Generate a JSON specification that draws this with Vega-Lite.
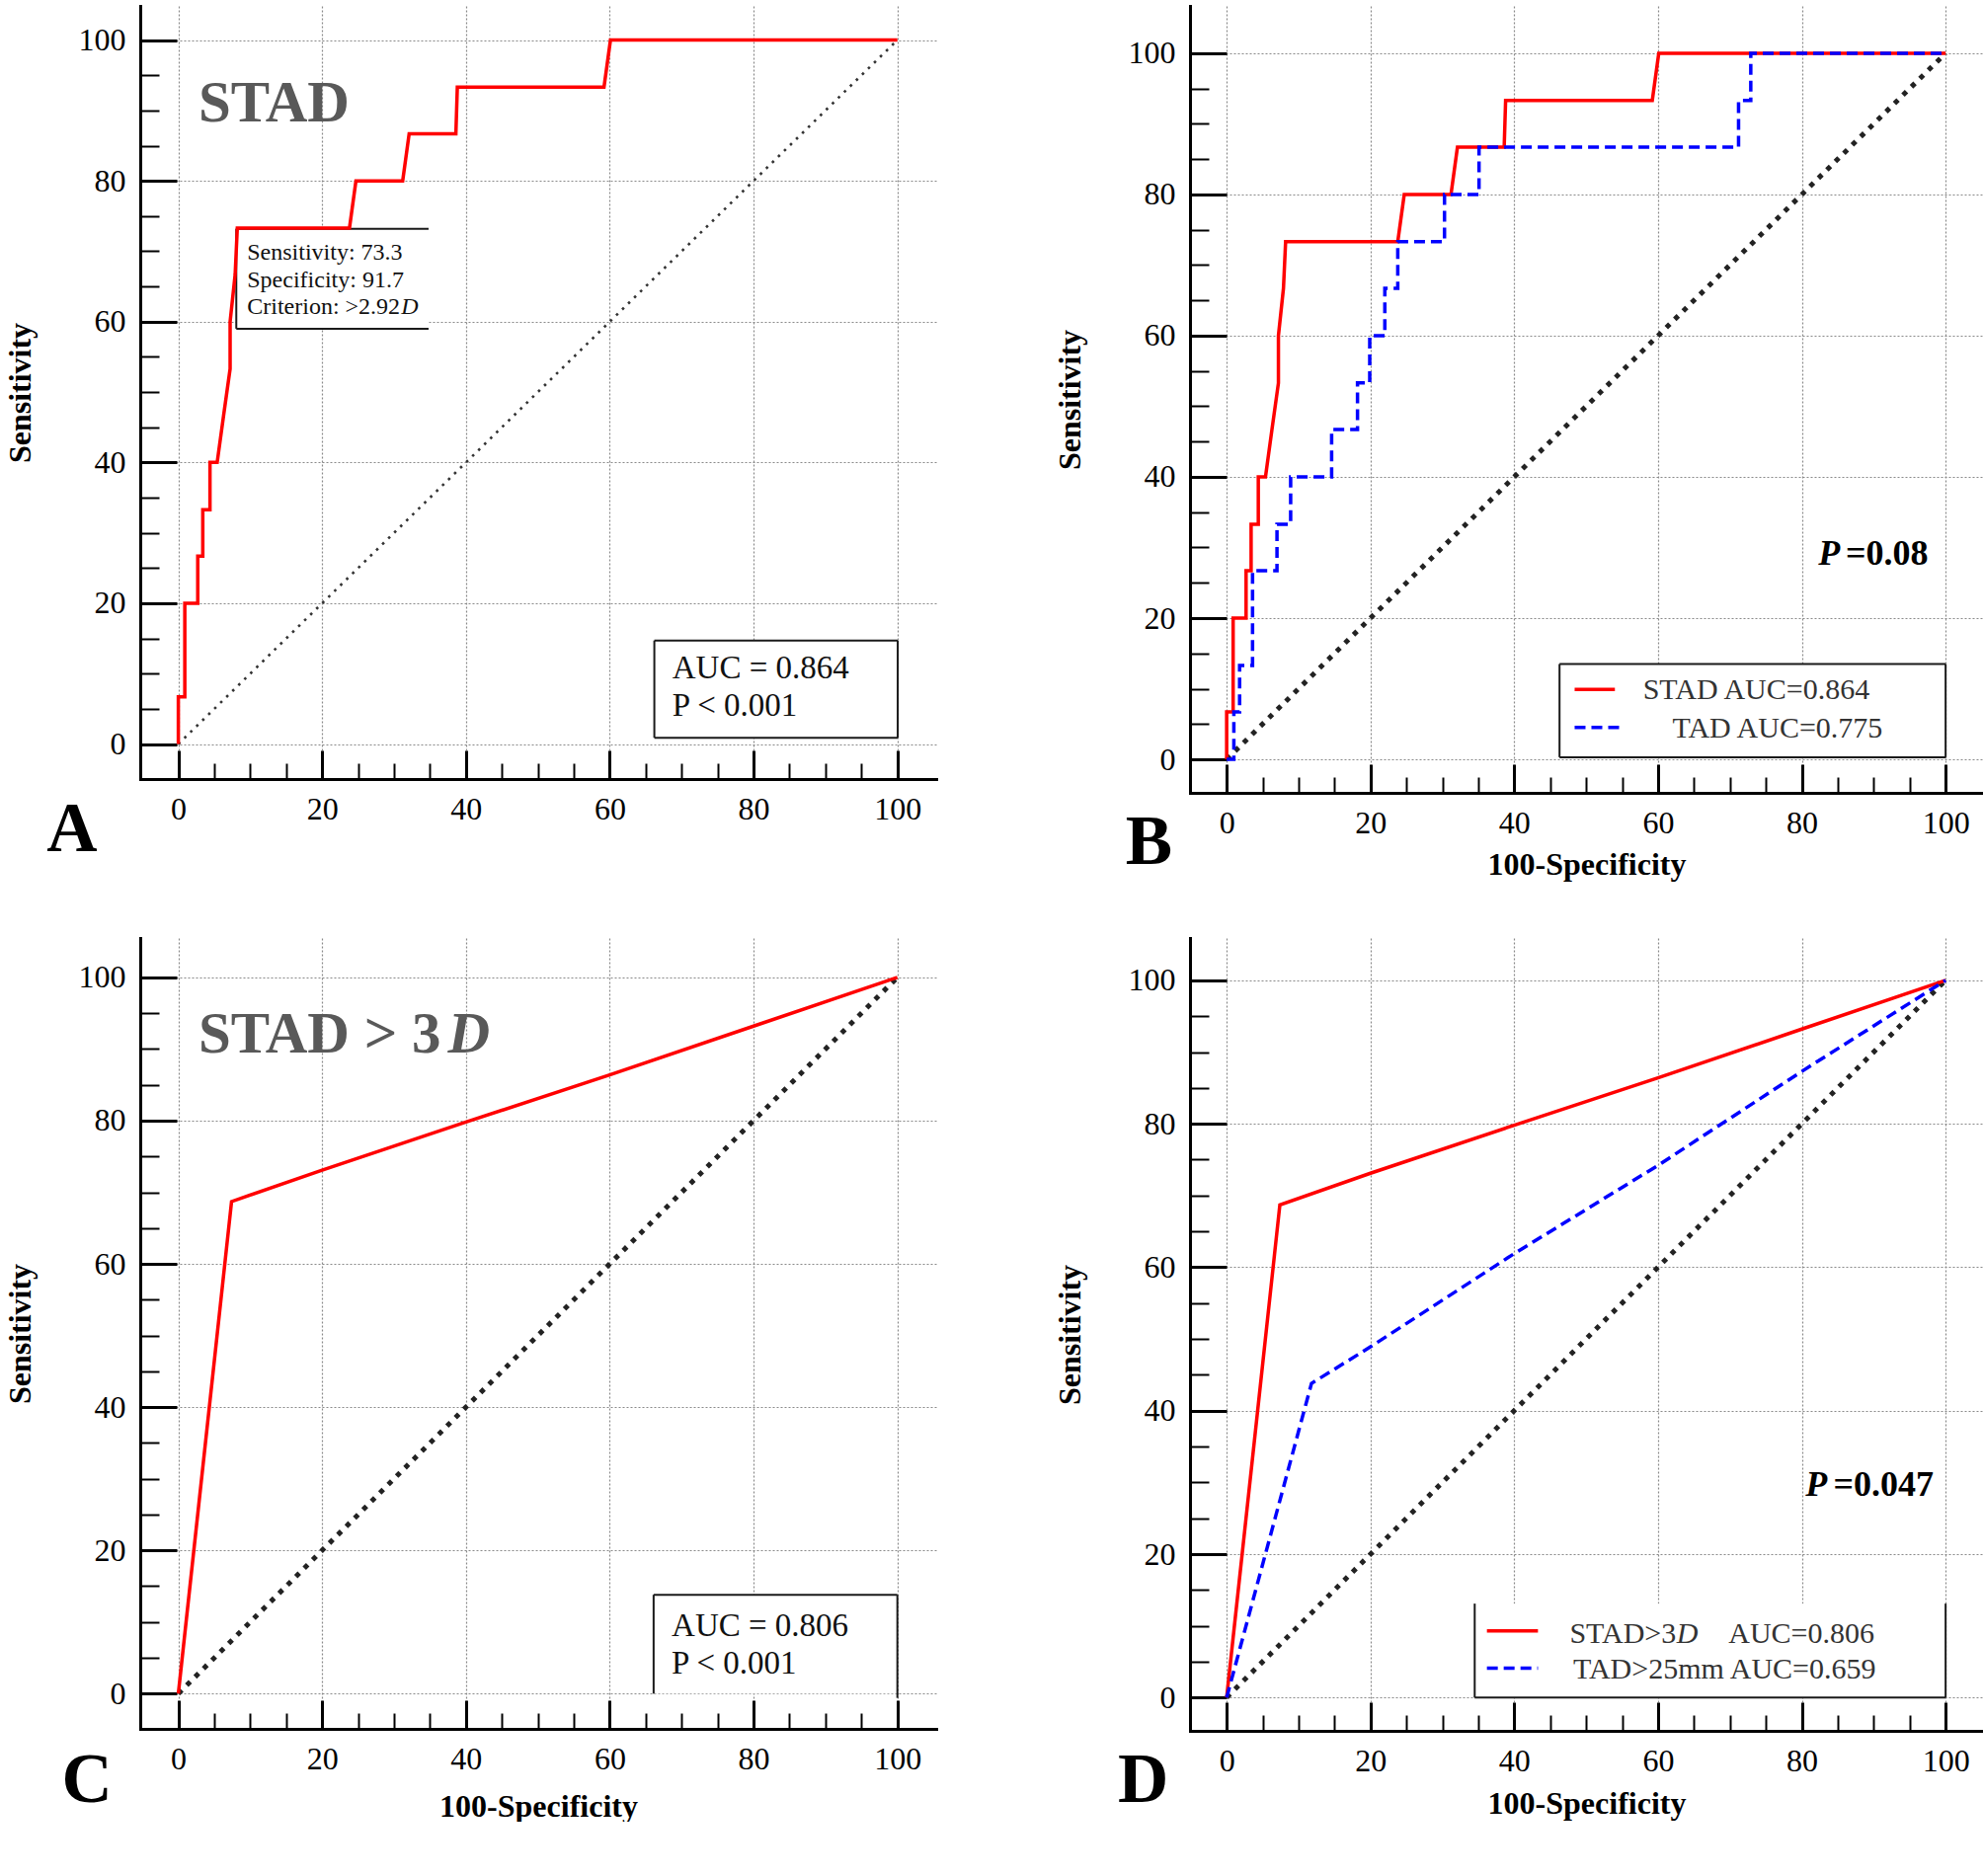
{
  "$schema": "https://vega.github.io/schema/vega-lite/v6.json",
  "background": "white",
  "padding": {"left": 4, "top": 6, "right": 0, "bottom": 0},
  "config": {
    "view": {"stroke": null},
    "axis": {
      "domainColor": "#000", "domainWidth": 3, "domainCap": "square",
      "tickColor": "#000",
      "labelFont": "Liberation Serif", "labelFontSize": 32, "labelColor": "#000",
      "labelOverlap": false, "labelFlush": false,
      "gridColor": "#8a8a8a", "gridDash": [2, 2], "gridWidth": 1.2,
      "titleFont": "Liberation Serif", "titleFontSize": 32, "titleFontWeight": "bold", "titleColor": "#000"
    },
    "text": {"font": "Liberation Serif"}
  },
  "datasets": {
    "stad": [
      {"x": 0, "y": 0}, {"x": 0, "y": 6.7}, {"x": 0.9, "y": 6.7}, {"x": 0.9, "y": 20},
      {"x": 2.7, "y": 20}, {"x": 2.7, "y": 26.7}, {"x": 3.4, "y": 26.7}, {"x": 3.4, "y": 33.3},
      {"x": 4.4, "y": 33.3}, {"x": 4.4, "y": 40}, {"x": 5.4, "y": 40}, {"x": 6.3, "y": 46.7},
      {"x": 7.2, "y": 53.3}, {"x": 7.2, "y": 60}, {"x": 7.9, "y": 66.7}, {"x": 8.2, "y": 73.3},
      {"x": 23.8, "y": 73.3}, {"x": 24.7, "y": 80}, {"x": 31.2, "y": 80}, {"x": 32.1, "y": 86.7},
      {"x": 38.6, "y": 86.7}, {"x": 38.8, "y": 93.3}, {"x": 59.2, "y": 93.3}, {"x": 60.1, "y": 100},
      {"x": 100, "y": 100}
    ],
    "tad": [
      {"x": 0, "y": 0}, {"x": 1, "y": 0}, {"x": 1, "y": 6.7}, {"x": 1.8, "y": 6.7},
      {"x": 1.8, "y": 13.3}, {"x": 3.6, "y": 13.3}, {"x": 3.6, "y": 26.7}, {"x": 7.0, "y": 26.7},
      {"x": 7.0, "y": 33.3}, {"x": 8.9, "y": 33.3}, {"x": 8.9, "y": 40}, {"x": 14.6, "y": 40},
      {"x": 14.6, "y": 46.7}, {"x": 18.2, "y": 46.7}, {"x": 18.2, "y": 53.3}, {"x": 19.9, "y": 53.3},
      {"x": 19.9, "y": 60}, {"x": 22, "y": 60}, {"x": 22, "y": 66.7}, {"x": 23.8, "y": 66.7},
      {"x": 23.8, "y": 73.3}, {"x": 30.3, "y": 73.3}, {"x": 30.3, "y": 80}, {"x": 35.1, "y": 80},
      {"x": 35.1, "y": 86.7}, {"x": 71.2, "y": 86.7}, {"x": 71.2, "y": 93.3}, {"x": 72.9, "y": 93.3},
      {"x": 72.9, "y": 100}, {"x": 100, "y": 100}
    ],
    "stad3d": [
      {"x": 0, "y": 0}, {"x": 7.4, "y": 68.7}, {"x": 20, "y": 73.1}, {"x": 40, "y": 79.8},
      {"x": 60, "y": 86.4}, {"x": 80, "y": 93.2}, {"x": 100, "y": 100}
    ],
    "tad25": [
      {"x": 0, "y": 0}, {"x": 11.8, "y": 43.8}, {"x": 20, "y": 48.9}, {"x": 40, "y": 61.9},
      {"x": 60, "y": 74.2}, {"x": 80, "y": 87.3}, {"x": 100, "y": 100}
    ],
    "diag": [{"x": 0, "y": 0}, {"x": 100, "y": 100}]
  },
  "columns": 2,
  "spacing": {"row": 147, "column": 257},
  "bounds": "flush",
  "concat": [
    {
      "width": 806, "height": 783,
      "encoding": {
        "x": {"field": "x", "type": "quantitative", "scale": {"domain": [-5.3, 105.4], "nice": false, "zero": false},
          "axis": {"title": null, "values": [0,5,10,15,20,25,30,35,40,45,50,55,60,65,70,75,80,85,90,95,100], "grid": true,
            "gridOpacity": {"condition": {"test": "datum.value % 20 === 0", "value": 1}, "value": 0},
            "tickSize": {"condition": {"test": "datum.value % 20 === 0", "value": -29}, "value": -16},
            "tickWidth": {"condition": {"test": "datum.value % 20 === 0", "value": 3}, "value": 2},
            "labelExpr": "datum.value % 20 === 0 ? datum.label : ''", "labelPadding": 44, "titlePadding": 4}},
        "y": {"field": "y", "type": "quantitative", "scale": {"domain": [-4.97, 104.85], "nice": false, "zero": false},
          "axis": {"title": "Sensitivity", "values": [0,5,10,15,20,25,30,35,40,45,50,55,60,65,70,75,80,85,90,95,100], "grid": true,
            "gridOpacity": {"condition": {"test": "datum.value % 20 === 0", "value": 1}, "value": 0},
            "tickSize": {"condition": {"test": "datum.value % 20 === 0", "value": -37}, "value": -19},
            "tickWidth": {"condition": {"test": "datum.value % 20 === 0", "value": 3}, "value": 2},
            "labelExpr": "datum.value % 20 === 0 ? datum.label : ''", "labelPadding": 52, "titlePadding": 42}}
      },
      "layer": [
        {"data": {"values": [{"x": 8.06, "x2": 34.8, "y": 59.0, "y2": 73.2}, {"x": 66.2, "x2": 100.05, "y": 0.9, "y2": 14.7}]},
          "mark": {"type": "rect", "fill": "white"}, "encoding": {"x2": {"field": "x2"}, "y2": {"field": "y2"}}},
        {"data": {"values": [
            {"x": 8.06, "x2": 34.8, "y": 73.2, "y2": 73.2}, {"x": 8.06, "x2": 8.06, "y": 59.0, "y2": 73.2}, {"x": 8.06, "x2": 34.8, "y": 59.0, "y2": 59.0},
            {"x": 66.2, "x2": 100.05, "y": 14.7, "y2": 14.7}, {"x": 66.2, "x2": 100.05, "y": 0.9, "y2": 0.9},
            {"x": 66.2, "x2": 66.2, "y": 0.9, "y2": 14.7}, {"x": 100.05, "x2": 100.05, "y": 0.9, "y2": 14.7}]},
          "mark": {"type": "rule", "color": "#1a1a1a", "strokeWidth": 2}, "encoding": {"x2": {"field": "x2"}, "y2": {"field": "y2"}}},
        {"data": {"name": "diag"}, "mark": {"type": "line", "color": "#333", "strokeWidth": 2.6, "strokeDash": [2.6, 5.9]}, "encoding": {"order": {"value": null}}},
        {"data": {"name": "stad"}, "mark": {"type": "line", "color": "#ff0000", "strokeWidth": 3.5, "strokeJoin": "miter"}, "encoding": {"order": {"value": null}}},
        {"data": {"values": [{"label": "STAD", "x": 2.8, "y": 88.4}]},
          "mark": {"type": "text", "fontSize": 59, "fontWeight": "bold", "color": "#595959", "align": "left", "baseline": "alphabetic"},
          "encoding": {"text": {"field": "label"}}},
        {"data": {"values": [{"label": "Sensitivity: 73.3", "x": 9.57, "y": 68.8}, {"label": "Specificity: 91.7", "x": 9.57, "y": 64.9}, {"label": "Criterion: >2.92", "x": 9.57, "y": 61.1}]},
          "mark": {"type": "text", "fontSize": 24, "color": "#111", "align": "left", "baseline": "alphabetic"},
          "encoding": {"text": {"field": "label"}}},
        {"data": {"values": [{"label": "D", "x": 31.0, "y": 61.1}]},
          "mark": {"type": "text", "fontSize": 24, "fontStyle": "italic", "color": "#111", "align": "left", "baseline": "alphabetic"},
          "encoding": {"text": {"field": "label"}}},
        {"data": {"values": [{"label": "AUC = 0.864", "x": 68.7, "y": 9.3}, {"label": "P < 0.001", "x": 68.7, "y": 4.0}]},
          "mark": {"type": "text", "fontSize": 33, "color": "#111", "align": "left", "baseline": "alphabetic"},
          "encoding": {"text": {"field": "label"}}},
        {"data": {"values": [{"label": "A", "x": -14.8, "y": -15.2}]},
          "mark": {"type": "text", "fontSize": 71, "fontWeight": "bold", "color": "#000", "align": "center", "baseline": "alphabetic"},
          "encoding": {"text": {"field": "label"}}}
      ]
    },
    {
      "width": 803, "height": 797,
      "encoding": {
        "x": {"field": "x", "type": "quantitative", "scale": {"domain": [-5.1, 105.2], "nice": false, "zero": false},
          "axis": {"title": "100-Specificity", "values": [0,5,10,15,20,25,30,35,40,45,50,55,60,65,70,75,80,85,90,95,100], "grid": true,
            "gridOpacity": {"condition": {"test": "datum.value % 20 === 0", "value": 1}, "value": 0},
            "tickSize": {"condition": {"test": "datum.value % 20 === 0", "value": -29}, "value": -16},
            "tickWidth": {"condition": {"test": "datum.value % 20 === 0", "value": 3}, "value": 2},
            "labelExpr": "datum.value % 20 === 0 ? datum.label : ''", "labelPadding": 44, "titlePadding": -2}},
        "y": {"field": "y", "type": "quantitative", "scale": {"domain": [-4.75, 106.7], "nice": false, "zero": false},
          "axis": {"title": "Sensitivity", "values": [0,5,10,15,20,25,30,35,40,45,50,55,60,65,70,75,80,85,90,95,100], "grid": true,
            "gridOpacity": {"condition": {"test": "datum.value % 20 === 0", "value": 1}, "value": 0},
            "tickSize": {"condition": {"test": "datum.value % 20 === 0", "value": -37}, "value": -19},
            "tickWidth": {"condition": {"test": "datum.value % 20 === 0", "value": 3}, "value": 2},
            "labelExpr": "datum.value % 20 === 0 ? datum.label : ''", "labelPadding": 52, "titlePadding": 42}}
      },
      "layer": [
        {"data": {"values": [{"x": 46.3, "x2": 100, "y": 0.3, "y2": 13.5}]},
          "mark": {"type": "rect", "fill": "white"}, "encoding": {"x2": {"field": "x2"}, "y2": {"field": "y2"}}},
        {"data": {"values": [
            {"x": 46.3, "x2": 100, "y": 13.5, "y2": 13.5}, {"x": 46.3, "x2": 100, "y": 0.3, "y2": 0.3},
            {"x": 46.3, "x2": 46.3, "y": 0.3, "y2": 13.5}, {"x": 100, "x2": 100, "y": 0.3, "y2": 13.5}]},
          "mark": {"type": "rule", "color": "#1a1a1a", "strokeWidth": 2}, "encoding": {"x2": {"field": "x2"}, "y2": {"field": "y2"}}},
        {"data": {"name": "diag"}, "mark": {"type": "line", "color": "#222", "strokeWidth": 5, "strokeDash": [5, 7]}, "encoding": {"order": {"value": null}}},
        {"data": {"name": "stad"}, "mark": {"type": "line", "color": "#ff0000", "strokeWidth": 3.5, "strokeJoin": "miter"}, "encoding": {"order": {"value": null}}},
        {"data": {"name": "tad"}, "mark": {"type": "line", "color": "#0000ff", "strokeWidth": 3.5, "strokeDash": [11, 6], "strokeJoin": "miter"}, "encoding": {"order": {"value": null}}},
        {"data": {"values": [{"x": 48.4, "x2": 54, "y": 9.9, "y2": 9.9}]},
          "mark": {"type": "rule", "color": "#ff0000", "strokeWidth": 3.5}, "encoding": {"x2": {"field": "x2"}, "y2": {"field": "y2"}}},
        {"data": {"values": [{"x": 48.4, "x2": 54.6, "y": 4.5, "y2": 4.5}]},
          "mark": {"type": "rule", "color": "#0000ff", "strokeWidth": 3.5, "strokeDash": [11, 6]}, "encoding": {"x2": {"field": "x2"}, "y2": {"field": "y2"}}},
        {"data": {"values": [{"label": "STAD AUC=0.864", "x": 57.9, "y": 8.5}, {"label": "TAD AUC=0.775", "x": 62, "y": 3.1}]},
          "mark": {"type": "text", "fontSize": 30, "color": "#333", "align": "left", "baseline": "alphabetic"},
          "encoding": {"text": {"field": "label"}}},
        {"data": {"values": [{"label": "P", "x": 82.3, "y": 27.5}]},
          "mark": {"type": "text", "fontSize": 36, "fontWeight": "bold", "fontStyle": "italic", "color": "#000", "align": "left", "baseline": "alphabetic"},
          "encoding": {"text": {"field": "label"}}},
        {"data": {"values": [{"label": "=0.08", "x": 86.1, "y": 27.5}]},
          "mark": {"type": "text", "fontSize": 36, "fontWeight": "bold", "color": "#000", "align": "left", "baseline": "alphabetic"},
          "encoding": {"text": {"field": "label"}}},
        {"data": {"values": [{"label": "B", "x": -10.8, "y": -14.85}]},
          "mark": {"type": "text", "fontSize": 71, "fontWeight": "bold", "color": "#000", "align": "center", "baseline": "alphabetic"},
          "encoding": {"text": {"field": "label"}}}
      ]
    },
    {
      "width": 806, "height": 801,
      "encoding": {
        "x": {"field": "x", "type": "quantitative", "scale": {"domain": [-5.3, 105.4], "nice": false, "zero": false},
          "axis": {"title": "100-Specificity", "values": [0,5,10,15,20,25,30,35,40,45,50,55,60,65,70,75,80,85,90,95,100], "grid": true,
            "gridOpacity": {"condition": {"test": "datum.value % 20 === 0", "value": 1}, "value": 0},
            "tickSize": {"condition": {"test": "datum.value % 20 === 0", "value": -29}, "value": -16},
            "tickWidth": {"condition": {"test": "datum.value % 20 === 0", "value": 3}, "value": 2},
            "labelExpr": "datum.value % 20 === 0 ? datum.label : ''", "labelPadding": 44, "titlePadding": 4}},
        "y": {"field": "y", "type": "quantitative", "scale": {"domain": [-4.92, 105.5], "nice": false, "zero": false},
          "axis": {"title": "Sensitivity", "values": [0,5,10,15,20,25,30,35,40,45,50,55,60,65,70,75,80,85,90,95,100], "grid": true,
            "gridOpacity": {"condition": {"test": "datum.value % 20 === 0", "value": 1}, "value": 0},
            "tickSize": {"condition": {"test": "datum.value % 20 === 0", "value": -37}, "value": -19},
            "tickWidth": {"condition": {"test": "datum.value % 20 === 0", "value": 3}, "value": 2},
            "labelExpr": "datum.value % 20 === 0 ? datum.label : ''", "labelPadding": 52, "titlePadding": 42}}
      },
      "layer": [
        {"data": {"values": [{"x": 66.1, "x2": 100, "y": 0, "y2": 13.8}]},
          "mark": {"type": "rect", "fill": "white"}, "encoding": {"x2": {"field": "x2"}, "y2": {"field": "y2"}}},
        {"data": {"values": [
            {"x": 66.1, "x2": 100, "y": 13.8, "y2": 13.8}, {"x": 66.1, "x2": 66.1, "y": 0, "y2": 13.8}, {"x": 100, "x2": 100, "y": -0.6, "y2": 13.8}]},
          "mark": {"type": "rule", "color": "#1a1a1a", "strokeWidth": 2}, "encoding": {"x2": {"field": "x2"}, "y2": {"field": "y2"}}},
        {"data": {"name": "diag"}, "mark": {"type": "line", "color": "#222", "strokeWidth": 5, "strokeDash": [5, 7]}, "encoding": {"order": {"value": null}}},
        {"data": {"name": "stad3d"}, "mark": {"type": "line", "color": "#ff0000", "strokeWidth": 3.5, "strokeJoin": "miter"}, "encoding": {"order": {"value": null}}},
        {"data": {"values": [{"label": "STAD > 3", "x": 2.8, "y": 89.5}]},
          "mark": {"type": "text", "fontSize": 59, "fontWeight": "bold", "color": "#595959", "align": "left", "baseline": "alphabetic"},
          "encoding": {"text": {"field": "label"}}},
        {"data": {"values": [{"label": "D", "x": 37.5, "y": 89.5}]},
          "mark": {"type": "text", "fontSize": 59, "fontWeight": "bold", "fontStyle": "italic", "color": "#595959", "align": "left", "baseline": "alphabetic"},
          "encoding": {"text": {"field": "label"}}},
        {"data": {"values": [{"label": "AUC = 0.806", "x": 68.6, "y": 8.0}, {"label": "P < 0.001", "x": 68.6, "y": 2.8}]},
          "mark": {"type": "text", "fontSize": 33, "color": "#111", "align": "left", "baseline": "alphabetic"},
          "encoding": {"text": {"field": "label"}}},
        {"data": {"values": [{"label": "C", "x": -12.7, "y": -15.15}]},
          "mark": {"type": "text", "fontSize": 71, "fontWeight": "bold", "color": "#000", "align": "center", "baseline": "alphabetic"},
          "encoding": {"text": {"field": "label"}}}
      ]
    },
    {
      "width": 803, "height": 803,
      "encoding": {
        "x": {"field": "x", "type": "quantitative", "scale": {"domain": [-5.1, 105.2], "nice": false, "zero": false},
          "axis": {"title": "100-Specificity", "values": [0,5,10,15,20,25,30,35,40,45,50,55,60,65,70,75,80,85,90,95,100], "grid": true,
            "gridOpacity": {"condition": {"test": "datum.value % 20 === 0", "value": 1}, "value": 0},
            "tickSize": {"condition": {"test": "datum.value % 20 === 0", "value": -29}, "value": -16},
            "tickWidth": {"condition": {"test": "datum.value % 20 === 0", "value": 3}, "value": 2},
            "labelExpr": "datum.value % 20 === 0 ? datum.label : ''", "labelPadding": 44, "titlePadding": -1}},
        "y": {"field": "y", "type": "quantitative", "scale": {"domain": [-4.64, 105.9], "nice": false, "zero": false},
          "axis": {"title": "Sensitivity", "values": [0,5,10,15,20,25,30,35,40,45,50,55,60,65,70,75,80,85,90,95,100], "grid": true,
            "gridOpacity": {"condition": {"test": "datum.value % 20 === 0", "value": 1}, "value": 0},
            "tickSize": {"condition": {"test": "datum.value % 20 === 0", "value": -37}, "value": -19},
            "tickWidth": {"condition": {"test": "datum.value % 20 === 0", "value": 3}, "value": 2},
            "labelExpr": "datum.value % 20 === 0 ? datum.label : ''", "labelPadding": 52, "titlePadding": 42}}
      },
      "layer": [
        {"data": {"values": [{"x": 34.5, "x2": 100, "y": 0, "y2": 13.1}]},
          "mark": {"type": "rect", "fill": "white"}, "encoding": {"x2": {"field": "x2"}, "y2": {"field": "y2"}}},
        {"data": {"values": [
            {"x": 34.5, "x2": 34.5, "y": 0, "y2": 13.1}, {"x": 100, "x2": 100, "y": 0, "y2": 13.1}, {"x": 34.5, "x2": 100, "y": 0, "y2": 0}]},
          "mark": {"type": "rule", "color": "#1a1a1a", "strokeWidth": 2}, "encoding": {"x2": {"field": "x2"}, "y2": {"field": "y2"}}},
        {"data": {"name": "diag"}, "mark": {"type": "line", "color": "#222", "strokeWidth": 5, "strokeDash": [5, 7]}, "encoding": {"order": {"value": null}}},
        {"data": {"name": "stad3d"}, "mark": {"type": "line", "color": "#ff0000", "strokeWidth": 3.5, "strokeJoin": "miter"}, "encoding": {"order": {"value": null}}},
        {"data": {"name": "tad25"}, "mark": {"type": "line", "color": "#0000ff", "strokeWidth": 3.5, "strokeDash": [11, 6], "strokeJoin": "miter"}, "encoding": {"order": {"value": null}}},
        {"data": {"values": [{"x": 36.2, "x2": 43.3, "y": 9.3, "y2": 9.3}]},
          "mark": {"type": "rule", "color": "#ff0000", "strokeWidth": 3.5}, "encoding": {"x2": {"field": "x2"}, "y2": {"field": "y2"}}},
        {"data": {"values": [{"x": 36.2, "x2": 43.3, "y": 4.1, "y2": 4.1}]},
          "mark": {"type": "rule", "color": "#0000ff", "strokeWidth": 3.5, "strokeDash": [11, 6]}, "encoding": {"x2": {"field": "x2"}, "y2": {"field": "y2"}}},
        {"data": {"values": [{"label": "STAD>3", "x": 47.7, "y": 7.6}, {"label": "AUC=0.806", "x": 69.8, "y": 7.6}, {"label": "TAD>25mm AUC=0.659", "x": 48.2, "y": 2.6}]},
          "mark": {"type": "text", "fontSize": 30, "color": "#333", "align": "left", "baseline": "alphabetic"},
          "encoding": {"text": {"field": "label"}}},
        {"data": {"values": [{"label": "D", "x": 62.6, "y": 7.6}]},
          "mark": {"type": "text", "fontSize": 30, "fontStyle": "italic", "color": "#333", "align": "left", "baseline": "alphabetic"},
          "encoding": {"text": {"field": "label"}}},
        {"data": {"values": [{"label": "P", "x": 80.5, "y": 28.1}]},
          "mark": {"type": "text", "fontSize": 36, "fontWeight": "bold", "fontStyle": "italic", "color": "#000", "align": "left", "baseline": "alphabetic"},
          "encoding": {"text": {"field": "label"}}},
        {"data": {"values": [{"label": "=0.047", "x": 84.4, "y": 28.1}]},
          "mark": {"type": "text", "fontSize": 36, "fontWeight": "bold", "color": "#000", "align": "left", "baseline": "alphabetic"},
          "encoding": {"text": {"field": "label"}}},
        {"data": {"values": [{"label": "D", "x": -11.6, "y": -14.6}]},
          "mark": {"type": "text", "fontSize": 71, "fontWeight": "bold", "color": "#000", "align": "center", "baseline": "alphabetic"},
          "encoding": {"text": {"field": "label"}}}
      ]
    }
  ]
}
